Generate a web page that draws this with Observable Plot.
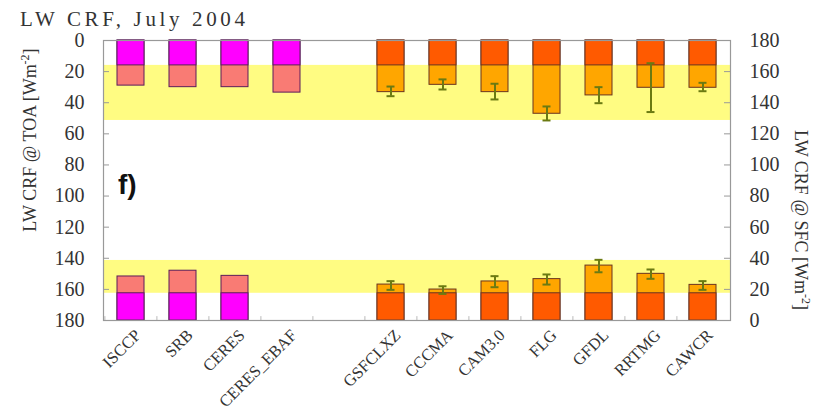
<!DOCTYPE html>
<html>
<head>
<meta charset="utf-8">
<script src="https://cdn.jsdelivr.net/npm/d3@7"></script>
<script src="https://cdn.jsdelivr.net/npm/@observablehq/plot@0.6"></script>
<style>
html,body{margin:0;padding:0;background:#fff;}
svg{display:block;}
</style>
</head>
<body>
<div id="chart"></div>
<script>
// ---- data ----
const categories = ["ISCCP","SRB","CERES","CERES_EBAF"," ","GSFCLXZ","CCCMA","CAM3.0","FLG","GFDL","RRTMG","CAWCR"];
const obsNames   = ["ISCCP","SRB","CERES","CERES_EBAF"];
const obsTOA     = [29, 30, 30, 33.5];
const obsSFC     = [28.3, 32, 28.7, null];
const modelNames = ["GSFCLXZ","CCCMA","CAM3.0","FLG","GFDL","RRTMG","CAWCR"];
const modelTOA   = [33.2, 28.5, 33.2, 47.1, 35.3, 30.4, 30.4];
const modelTOAlo = [29.6, 25.0, 27.8, 42.4, 30.0, 14.6, 27.2];
const modelTOAhi = [35.8, 31.5, 37.9, 51.4, 40.3, 46.0, 32.6];
const modelSFC   = [23.1, 19.9, 25.1, 26.6, 35.3, 30.0, 22.9];
const modelSFClo = [19.7, 17.1, 21.4, 23.1, 31.0, 26.8, 19.7];
const modelSFChi = [25.3, 22.0, 28.5, 29.6, 39.0, 32.8, 25.3];
const toaBand = [16, 51.4];     // TOA observed range
const sfcBand = [17.5, 38.6];   // SFC observed range
const toaBase = 16;             // dark part of TOA bars
const sfcBase = 17.5;           // dark part of SFC bars
const yTicks = [0,20,40,60,80,100,120,140,160,180];
const AXMAX = 180;

// ---- tables ----
const obsRows = obsNames.map((c,i)=>({cat:c, toa:obsTOA[i], sfc:obsSFC[i], kind:"obs"}));
const modRows = modelNames.map((c,i)=>({cat:c, toa:modelTOA[i], sfc:modelSFC[i], toaLo:modelTOAlo[i], toaHi:modelTOAhi[i], sfcLo:modelSFClo[i], sfcHi:modelSFChi[i], kind:"mod"}));
const allRows = obsRows.concat(modRows);
const sfcRows = allRows.filter(d=>d.sfc!=null);
const bands = [{y1:toaBand[0], y2:toaBand[1]}, {y1:AXMAX-sfcBand[1], y2:AXMAX-sfcBand[0]}];

const light = d => d.kind==="obs" ? "#f97b74" : "#ffa600";
const dark  = d => d.kind==="obs" ? "#ff00ff" : "#ff5a00";
const edge  = d => d.kind==="obs" ? "#5a1d5a" : "#6a3320";
const errC = "#6b7a12";

const chart = Plot.plot({
  width: 825, height: 413,
  marginLeft: 103, marginRight: 95, marginTop: 40, marginBottom: 93,
  style: {fontFamily: "Liberation Serif", background: "#fff"},
  x: {type: "band", domain: categories, paddingInner: 0.48, paddingOuter: 0.24, axis: null},
  y: {domain: [0, AXMAX], reverse: true, axis: null},
  marks: [
    Plot.rect(bands, {y1: "y1", y2: "y2", fill: "#fffc82"}),
    // TOA bars hanging from the top
    Plot.barY(allRows, {x: "cat", y1: 0, y2: "toa", fill: light, stroke: edge, strokeWidth: 1}),
    Plot.barY(allRows, {x: "cat", y1: 0, y2: toaBase, fill: dark, stroke: edge, strokeWidth: 1}),
    // SFC bars rising from the bottom
    Plot.barY(sfcRows, {x: "cat", y1: AXMAX, y2: d => AXMAX - d.sfc, fill: light, stroke: edge, strokeWidth: 1}),
    Plot.barY(sfcRows, {x: "cat", y1: AXMAX, y2: AXMAX - sfcBase, fill: dark, stroke: edge, strokeWidth: 1}),
    // error bars
    Plot.ruleX(modRows, {x: "cat", y1: "toaLo", y2: "toaHi", stroke: errC, strokeWidth: 2}),
    Plot.tickY(modRows, {x: "cat", y: "toaLo", stroke: errC, strokeWidth: 2, insetLeft: 9.5, insetRight: 9.5}),
    Plot.tickY(modRows, {x: "cat", y: "toaHi", stroke: errC, strokeWidth: 2, insetLeft: 9.5, insetRight: 9.5}),
    Plot.ruleX(modRows, {x: "cat", y1: d => AXMAX - d.sfcLo, y2: d => AXMAX - d.sfcHi, stroke: errC, strokeWidth: 2}),
    Plot.tickY(modRows, {x: "cat", y: d => AXMAX - d.sfcLo, stroke: errC, strokeWidth: 2, insetLeft: 9.5, insetRight: 9.5}),
    Plot.tickY(modRows, {x: "cat", y: d => AXMAX - d.sfcHi, stroke: errC, strokeWidth: 2, insetLeft: 9.5, insetRight: 9.5}),
    // inward tick marks
    Plot.tickY(yTicks, {y: d => d, stroke: "#999", insetRight: 621}),
    Plot.tickY(yTicks, {y: d => d, stroke: "#999", insetLeft: 621}),
    Plot.ruleX(categories, {x: d => d, dx: -26.1, y1: AXMAX, y2: AXMAX - 2.5, stroke: "#bbb"}),
    Plot.frame({stroke: "#999", strokeWidth: 1.2}),
    // axes
    Plot.axisY(yTicks, {anchor: "left", tickSize: 0, tickPadding: 19, fontSize: 20, fill: "#333"}),
    Plot.axisY(yTicks, {anchor: "right", tickSize: 0, tickPadding: 19, fontSize: 20, fill: "#333", textAnchor: "start", tickFormat: d => String(AXMAX - d)}),
    // category labels
    Plot.text(categories.filter(c => c.trim() !== ""), {x: d => d, y: AXMAX, text: d => d, rotate: -45, textAnchor: "end", dx: 7, dy: 12, fontSize: 16.5, fill: "#333"})
  ]
});

const svg = d3.select(chart);
svg.append("text").attr("x", 20).attr("y", 26).attr("text-anchor", "start")
  .attr("font-family", "Liberation Serif").attr("font-size", 21).attr("fill", "#333")
  .attr("textLength", 225).attr("lengthAdjust", "spacing")
  .text("LW CRF, July 2004");

const lab1 = svg.append("text").attr("transform", "translate(36,140) rotate(-90)")
  .attr("text-anchor", "middle").attr("font-family", "Liberation Serif").attr("font-size", 18).attr("fill", "#333");
lab1.append("tspan").text("LW CRF @ TOA [Wm");
lab1.append("tspan").attr("dy", -7).attr("font-size", 12).text("-2");
lab1.append("tspan").attr("dy", 7).text("]");

const lab2 = svg.append("text").attr("transform", "translate(795,220) rotate(90)")
  .attr("text-anchor", "middle").attr("font-family", "Liberation Serif").attr("font-size", 18).attr("fill", "#333");
lab2.append("tspan").text("LW CRF @ SFC [Wm");
lab2.append("tspan").attr("dy", -7).attr("font-size", 12).text("-2");
lab2.append("tspan").attr("dy", 7).text("]");

svg.append("text").attr("x", 118).attr("y", 194).attr("text-anchor", "start")
  .attr("font-family", "Liberation Sans").attr("font-weight", "bold").attr("font-size", 28).attr("fill", "#111")
  .text("f)");

document.getElementById("chart").appendChild(chart);
</script>
</body>
</html>
